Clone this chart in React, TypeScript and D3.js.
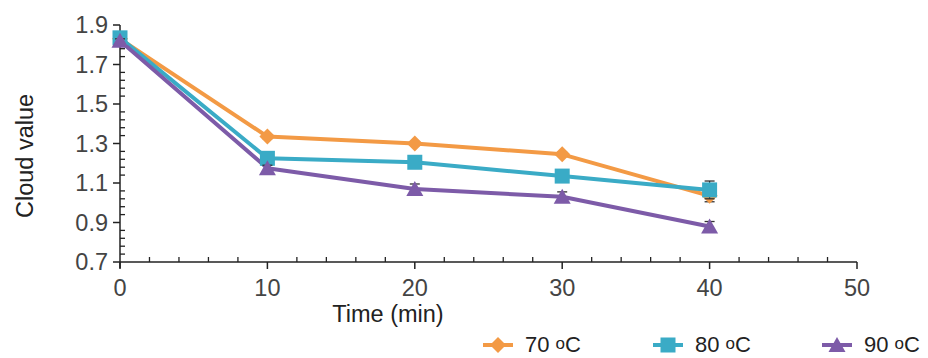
import React from "react";
import * as d3 from "d3";

const times = [0, 10, 20, 30, 40];
const seriesNames = ["70 ", "80 ", "90 "];
const s70 = [1.83, 1.335, 1.30, 1.245, 1.035];
const s80 = [1.835, 1.225, 1.205, 1.135, 1.065];
const s90 = [1.82, 1.175, 1.07, 1.03, 0.88];
const e70 = [0.01, 0.01, 0.01, 0.01, 0.03];
const e80 = [0.01, 0.01, 0.01, 0.01, 0.045];
const e90 = [0.01, 0.015, 0.025, 0.025, 0.025];
const colors = ["#F39A45", "#3AABC6", "#7D5BA8"];
const shapes = ["diamond", "square", "triangle"];
const xTicks = [0, 10, 20, 30, 40, 50];
const yTicks = [0.7, 0.9, 1.1, 1.3, 1.5, 1.7, 1.9];

const W = 928, H = 358;
const font = "Liberation Sans, Arial, sans-serif";
const FS = 23.5;

function Marker({ shape, x, y, color }: { shape: string; x: number; y: number; color: string }) {
  if (shape === "diamond") {
    const p = `M${x},${y - 8}L${x + 8},${y}L${x},${y + 8}L${x - 8},${y}Z`;
    return <path d={p} fill={color} />;
  }
  if (shape === "square") {
    return <rect x={x - 7.5} y={y - 7.5} width={15} height={15} fill={color} />;
  }
  const p = `M${x},${y - 8}L${x + 8.5},${y + 7}L${x - 8.5},${y + 7}Z`;
  return <path d={p} fill={color} />;
}

export default function App() {
  const x = d3.scaleLinear().domain([0, 50]).range([120, 857]);
  const y = d3.scaleLinear().domain([0.7, 1.9]).range([262, 25]);
  const data = [s70, s80, s90];
  const errs = [e70, e80, e90];
  const line = d3
    .line<number>()
    .x((_, i) => x(times[i]))
    .y((d) => y(d));
  const xMinor = d3.range(0, 50.001, 2).filter((v) => v % 10 !== 0);
  const yMinor = d3.range(0.7, 1.9001, 0.04).filter((v) => !yTicks.some((t) => Math.abs(t - v) < 1e-6));
  const legendX = [498, 668, 837];
  return (
    <svg width={W} height={H} style={{ position: "absolute", left: 0, top: 0, background: "#fff" }}>
      {/* axes */}
      <line x1={x(0)} x2={x(0)} y1={y(1.9)} y2={268} stroke="#222" strokeWidth={1.5} />
      <line x1={x(0)} x2={x(50)} y1={y(0.7)} y2={y(0.7)} stroke="#222" strokeWidth={1.5} />
      {yTicks.map((t) => (
        <g key={"y" + t}>
          <line x1={x(0) - 7} x2={x(0)} y1={y(t)} y2={y(t)} stroke="#222" strokeWidth={1.5} />
          <text x={x(0) - 12} y={y(t)} dy="0.36em" textAnchor="end" fontFamily={font} fontSize={FS} fill="#444">
            {t.toFixed(1)}
          </text>
        </g>
      ))}
      {yMinor.map((t) => (
        <line key={"ym" + t} x1={x(0)} x2={x(0) + 5} y1={y(t)} y2={y(t)} stroke="#222" strokeWidth={1.3} />
      ))}
      {xTicks.map((t) => (
        <g key={"x" + t}>
          <line x1={x(t)} x2={x(t)} y1={y(0.7)} y2={y(0.7) + 7} stroke="#222" strokeWidth={1.5} />
          <text x={x(t)} y={296} textAnchor="middle" fontFamily={font} fontSize={FS} fill="#444">
            {t}
          </text>
        </g>
      ))}
      {xMinor.map((t) => (
        <line key={"xm" + t} x1={x(t)} x2={x(t)} y1={y(0.7) - 5} y2={y(0.7)} stroke="#222" strokeWidth={1.3} />
      ))}
      <text x={388} y={322} textAnchor="middle" fontFamily={font} fontSize={FS} fill="#222">
        Time (min)
      </text>
      <text
        transform={`translate(33,156) rotate(-90)`}
        textAnchor="middle"
        fontFamily={font}
        fontSize={FS}
        fill="#222"
      >
        Cloud value
      </text>
      {/* series */}
      {data.map((s, si) => (
        <g key={"s" + si}>
          <path d={line(s) || ""} fill="none" stroke={colors[si]} strokeWidth={4} strokeLinejoin="round" />
        </g>
      ))}
      {data.map((s, si) => (
        <g key={"m" + si}>
          {s.map((v, i) => {
            const cx = x(times[i]);
            const e = errs[si][i];
            return (
              <g key={i}>
                <line x1={cx} x2={cx} y1={y(v + e)} y2={y(v - e)} stroke="#333" strokeWidth={1.3} />
                <line x1={cx - 5} x2={cx + 5} y1={y(v + e)} y2={y(v + e)} stroke="#333" strokeWidth={1.3} />
                <line x1={cx - 5} x2={cx + 5} y1={y(v - e)} y2={y(v - e)} stroke="#333" strokeWidth={1.3} />
                <Marker shape={shapes[si]} x={cx} y={y(v)} color={colors[si]} />
              </g>
            );
          })}
        </g>
      ))}
      {/* legend */}
      {seriesNames.map((n, i) => (
        <g key={"l" + i}>
          <line x1={legendX[i] - 15} x2={legendX[i] + 15} y1={345} y2={345} stroke={colors[i]} strokeWidth={4} />
          <Marker shape={shapes[i]} x={legendX[i]} y={345} color={colors[i]} />
          <text x={legendX[i] + 27} y={352} fontFamily={font} fontSize={22} fill="#222">
            {n}
            <tspan fontSize={17} dy={-3}>o</tspan>
            <tspan dy={3}>C</tspan>
          </text>
        </g>
      ))}
    </svg>
  );
}
